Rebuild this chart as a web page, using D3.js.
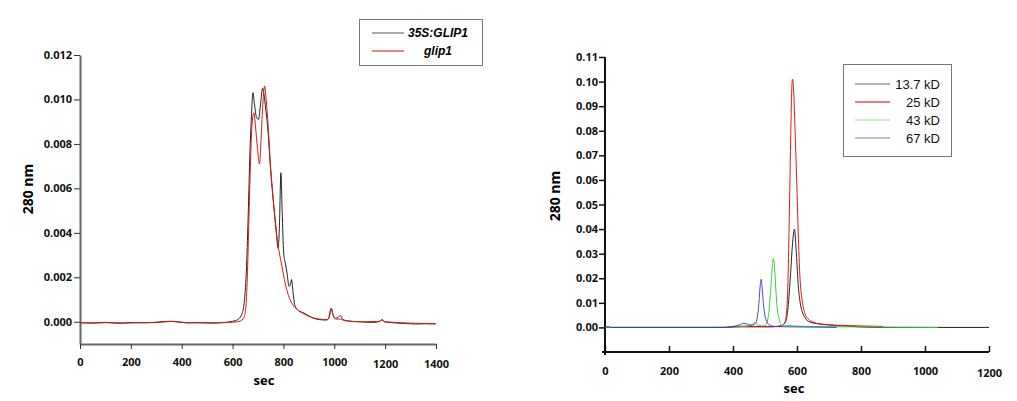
<!DOCTYPE html>
<html><head><meta charset="utf-8">
<script src="https://cdnjs.cloudflare.com/ajax/libs/d3/7.8.5/d3.min.js"></script>
<style>
body{margin:0;background:#fff;}
svg{display:block;}
.tk text{font-family:"Open Sans",sans-serif;font-weight:700;font-size:11px;fill:#111;}
</style></head>
<body><svg id="c" width="1017" height="401"></svg>
<script>
// ---------- Left chart data ----------
const leftSeriesNames = ["35S:GLIP1", "glip1"];
const leftXTicks = [0,200,400,600,800,1000,1200,1400];
const leftYTicks = [0.000,0.002,0.004,0.006,0.008,0.010,0.012];
const gl35S = [[0,-0.00004],[50,-0.00006],[100,-0.00003],[150,-0.00007],[200,-0.00004],[250,-0.00005],[300,-0.00002],[350,0.00002],[380,0.0],[420,-0.00005],[470,-0.00004],[520,-0.00006],[570,-0.00003],[600,0.00002],[620,0.0001],[635,0.0003],[645,0.0008],[655,0.0025],[662,0.0050],[668,0.0075],[674,0.0092],[680,0.0103],[686,0.0098],[694,0.0092],[702,0.0091],[710,0.0098],[718,0.0105],[724,0.0102],[730,0.0096],[740,0.0085],[748,0.0071],[756,0.0060],[764,0.0050],[772,0.0041],[779,0.0033],[784,0.0042],[790,0.0067],[795,0.0050],[801,0.0031],[808,0.0026],[814,0.0022],[822,0.0016],[828,0.0017],[832,0.0019],[838,0.0013],[846,0.0007],[860,0.0005],[880,0.0004],[910,0.0002],[940,0.0001],[970,0.00008],[980,0.0002],[988,0.0006],[995,0.0003],[1004,0.00015],[1014,0.0002],[1024,0.00028],[1034,0.0001],[1060,0.00003],[1100,0.0],[1150,-0.00003],[1180,0.00002],[1188,0.0001],[1196,0.0],[1240,-0.00005],[1280,-0.00008],[1320,-0.0001],[1360,-0.00009],[1398,-0.0001]];
const glip1 = [[0,-0.00004],[60,-0.00005],[120,-0.00004],[180,-0.00006],[240,-0.00003],[300,-0.00004],[360,0.00002],[420,-0.00004],[480,-0.00005],[540,-0.00004],[600,-0.00002],[630,0.00003],[645,0.0002],[652,0.0006],[658,0.0020],[664,0.0045],[670,0.0070],[676,0.0088],[684,0.0094],[690,0.0088],[698,0.0078],[706,0.0071],[712,0.0082],[718,0.0096],[726,0.0106],[732,0.0100],[740,0.0088],[748,0.0072],[758,0.0057],[766,0.0047],[774,0.0038],[784,0.0031],[794,0.0025],[804,0.0019],[814,0.0014],[826,0.0010],[841,0.0007],[860,0.0005],[890,0.0003],[940,0.00012],[975,0.0001],[988,0.0006],[996,0.0003],[1006,0.00012],[1024,0.00012],[1040,0.00005],[1100,0.0],[1180,0.00002],[1188,0.0001],[1200,0.0],[1300,-0.00006],[1400,-0.00008]];

// ---------- Right chart data ----------
const rightSeriesNames = ["13.7 kD","25 kD","43 kD","67 kD"];
const rightXTicks = [0,200,400,600,800,1000,1200];
const rightYTicks = [0.00,0.01,0.02,0.03,0.04,0.05,0.06,0.07,0.08,0.09,0.10,0.11];
const kd13 = [[0,0],[300,0],[380,0],[400,0.0003],[430,0.0005],[470,0.0004],[520,0.0003],[550,0.0006],[565,0.0025],[572,0.008],[580,0.022],[586,0.034],[592,0.040],[598,0.030],[604,0.017],[610,0.010],[616,0.0065],[625,0.004],[635,0.0025],[660,0.0016],[690,0.0012],[720,0.0008],[760,0.0005],[800,0.0002],[850,0],[1200,0]];
const kd25 = [[380,0],[430,0.0002],[500,0.0002],[550,0.0005],[562,0.002],[568,0.007],[572,0.02],[576,0.045],[580,0.075],[584,0.098],[586,0.101],[590,0.095],[594,0.080],[599,0.060],[604,0.038],[609,0.021],[615,0.012],[620,0.008],[625,0.0055],[635,0.0035],[650,0.0022],[670,0.0014],[700,0.001],[750,0.0008],[800,0.0006],[868,0.0004]];
const kd43 = [[0,0],[300,0],[400,0.0002],[440,0.0005],[460,0.0012],[468,0.002],[476,0.0012],[490,0.0006],[500,0.0008],[506,0.002],[512,0.006],[518,0.016],[523,0.025],[526,0.028],[530,0.024],[534,0.015],[538,0.008],[544,0.0035],[550,0.0012],[556,0.0006],[570,0.0008],[600,0.0005],[700,0.0003],[800,0.0002],[900,0.0001],[1040,0]];
const kd67 = [[0,0],[10,0.0003],[20,0],[370,0],[400,0.0004],[420,0.0010],[432,0.0017],[442,0.0015],[455,0.0009],[466,0.0012],[472,0.002],[477,0.005],[481,0.010],[485,0.017],[488,0.0196],[491,0.016],[495,0.0098],[499,0.0055],[503,0.0033],[510,0.0015],[520,0.0006],[540,0.0003],[600,0.0002],[724,0]];

const svg = d3.select("#c");

// ================= LEFT CHART =================
const lx = d3.scaleLinear().domain([0,1400]).range([80,436]);
const ly = d3.scaleLinear().domain([-0.001,0.012]).range([344,55]);

const lyAxis = svg.append("g").attr("class","tk").attr("transform","translate(80,0)")
  .call(d3.axisLeft(ly).tickValues(leftYTicks).tickFormat(d3.format(".3f")).tickSize(6).tickSizeOuter(0).tickPadding(2));
lyAxis.select(".domain").attr("stroke","#666").attr("stroke-width",2);
lyAxis.selectAll(".tick line").attr("stroke","#333");

const lxAxis = svg.append("g").attr("class","tk").attr("transform","translate(0,344)")
  .call(d3.axisBottom(lx).tickValues(leftXTicks).tickFormat(d3.format("d")).tickSize(5).tickSizeOuter(0).tickPadding(9));
lxAxis.select(".domain").attr("stroke","#666").attr("stroke-width",2);
lxAxis.selectAll(".tick line").attr("stroke","#333");
lxAxis.selectAll(".tick text").filter(d=>d>=1200).attr("dy","0.95em");

const lline = d3.line().x(d=>lx(d[0])).y(d=>ly(d[1])).curve(d3.curveMonotoneX);
svg.append("path").datum(gl35S).attr("d",lline).attr("fill","none").attr("stroke","#222").attr("stroke-width",1);
svg.append("path").datum(glip1).attr("d",lline).attr("fill","none").attr("stroke","#d81818").attr("stroke-width",1);

svg.append("text").attr("transform","translate(33,189) rotate(-90)").attr("text-anchor","middle")
  .style("font-family","'Open Sans',sans-serif").style("font-weight","700").style("font-size","14px").text("280 nm");
svg.append("text").attr("x",264).attr("y",385).attr("text-anchor","middle")
  .style("font-family","'Open Sans',sans-serif").style("font-weight","700").style("font-size","13px").text("sec");

// left legend
const lLegColors = ["#555","#c81010"];
svg.append("rect").attr("x",359.5).attr("y",19.5).attr("width",123).attr("height",46).attr("fill","#fff").attr("stroke","#777");
leftSeriesNames.forEach((n,i)=>{
  const yy = 33 + i*18;
  svg.append("line").attr("x1",372).attr("x2",404).attr("y1",yy).attr("y2",yy).attr("stroke",lLegColors[i]).attr("stroke-width",1);
  svg.append("text").attr("x",438).attr("y",yy+4).attr("text-anchor","middle")
    .style("font-family","'Liberation Sans',Arial,sans-serif").style("font-weight","700").style("font-style","italic").style("font-size","12px").text(n);
});

// ================= RIGHT CHART =================
const rx = d3.scaleLinear().domain([0,1200]).range([605,989]);
const ry = d3.scaleLinear().domain([-0.01,0.11]).range([352,57]);

const ryAxis = svg.append("g").attr("class","tk").attr("transform","translate(605,0)")
  .call(d3.axisLeft(ry).tickValues(rightYTicks).tickFormat(d3.format(".2f")).tickSize(6).tickSizeOuter(0).tickPadding(1));
ryAxis.select(".domain").attr("stroke","#111").attr("stroke-width",2).attr("d","M0,355V57");
ryAxis.selectAll(".tick line").attr("stroke","#111").attr("stroke-width",1.5);

const rxAxis = svg.append("g").attr("class","tk").attr("transform","translate(0,352)")
  .call(d3.axisBottom(rx).tickValues(rightXTicks).tickFormat(d3.format("d")).tickSize(-6).tickSizeOuter(0).tickPadding(15));
rxAxis.select(".domain").attr("stroke","#111").attr("stroke-width",2).attr("d","M602,0H989");
rxAxis.selectAll(".tick line").attr("stroke","#111").attr("stroke-width",1.5);
rxAxis.selectAll(".tick text").filter(d=>d>=1200).attr("dy","0.95em");

const rline = d3.line().x(d=>rx(d[0])).y(d=>ry(d[1])).curve(d3.curveMonotoneX);
const rColors = ["#222","#e01818","#3ccc3c","#2828c8"];
[kd13,kd25,kd43,kd67].forEach((s,i)=>{
  svg.append("path").datum(s).attr("d",rline).attr("fill","none").attr("stroke",rColors[i]).attr("stroke-width",1)
    .attr("stroke-opacity", i===3?0.85:1);
});

svg.append("text").attr("transform","translate(560,196) rotate(-90)").attr("text-anchor","middle")
  .style("font-family","'Open Sans',sans-serif").style("font-weight","700").style("font-size","14px").text("280 nm");
svg.append("text").attr("x",794).attr("y",393).attr("text-anchor","middle")
  .style("font-family","'Open Sans',sans-serif").style("font-weight","700").style("font-size","13px").text("sec");

// right legend
const rLegColors = ["#666","#c00000","#8ee08e","#7c7cd4"];
svg.append("rect").attr("x",843.5).attr("y",64.5).attr("width",108).attr("height",92).attr("fill","#fff").attr("stroke","#777");
rightSeriesNames.forEach((n,i)=>{
  const yy = 84 + i*18;
  svg.append("line").attr("x1",855).attr("x2",890).attr("y1",yy).attr("y2",yy).attr("stroke",rLegColors[i]).attr("stroke-width",1);
  svg.append("text").attr("x",940).attr("y",yy+5).attr("text-anchor","end")
    .style("font-family","'Liberation Sans',Arial,sans-serif").style("font-size","13px").style("fill","#111").text(n);
});
</script></body></html>
